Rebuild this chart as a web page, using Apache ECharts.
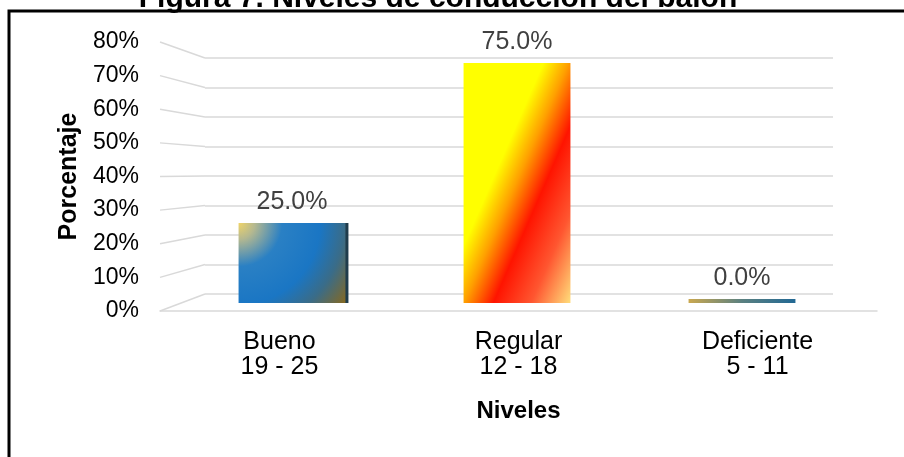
<!DOCTYPE html>
<html>
<head>
<meta charset="utf-8">
<script src="https://cdn.jsdelivr.net/npm/echarts@6/dist/echarts.min.js"></script>
<style>
  html, body { margin: 0; padding: 0; background: #fff; }
  #chart { width: 904px; height: 457px; }
</style>
</head>
<body>
<div id="chart"></div>
<script>
const niveles = ['Bueno\n19 - 25', 'Regular\n12 - 18', 'Deficiente\n5 - 11'];
const porcentajes = [25.0, 75.0, 0.0];
const ticks = [0, 10, 20, 30, 40, 50, 60, 70, 80];

const font = 'Liberation Sans, Arial, sans-serif';
const gridColor = '#d9d9d9';

// three planes of the fake 3D box: front (labels), middle (bars), back wall
const gridFront = { left: 160, right: 27, top: 42, bottom: 146 };
const gridMid = { left: 179.5, right: 49.5, top: 47, bottom: 154 };
const gridBack = { left: 205, right: 71, top: 58, bottom: 163 };

const fills = [
  {
    type: 'radial', x: 0, y: 0, r: 1.7,
    colorStops: [
      { offset: 0, color: '#f0d468' },
      { offset: 0.12, color: '#b4b890' },
      { offset: 0.32, color: '#2a80c4' },
      { offset: 0.6, color: '#1a76c4' },
      { offset: 0.78, color: '#3a6c88' },
      { offset: 1, color: '#8c6818' }
    ]
  },
  {
    type: 'linear', x: 0, y: 0, x2: 1.65, y2: 0.32,
    colorStops: [
      { offset: 0, color: '#ffff00' },
      { offset: 0.38, color: '#ffff00' },
      { offset: 0.5, color: '#ffa000' },
      { offset: 0.64, color: '#ff1400' },
      { offset: 0.82, color: '#ff5630' },
      { offset: 1, color: '#ffd878' }
    ]
  },
  {
    type: 'linear', x: 0, y: 0, x2: 1, y2: 0,
    colorStops: [
      { offset: 0, color: '#caa850' },
      { offset: 0.5, color: '#5a8080' },
      { offset: 1, color: '#226894' }
    ]
  }
];

const chart = echarts.init(document.getElementById('chart'));

const valueAxis = (idx, extra) => Object.assign({
  type: 'value',
  gridIndex: idx,
  min: 0,
  max: 80,
  interval: 10,
  axisLine: { show: false },
  axisTick: { show: false },
  axisLabel: { show: false },
  splitLine: { show: false }
}, extra);

chart.setOption({
  animation: false,
  textStyle: { fontFamily: font },
  grid: [gridFront, gridMid, gridBack],
  xAxis: [
    {
      type: 'category',
      gridIndex: 0,
      data: niveles,
      axisLine: { lineStyle: { color: gridColor, width: 1.5 } },
      axisTick: { show: false },
      axisLabel: { color: '#000', fontSize: 25, lineHeight: 25, margin: 19 },
      name: 'Niveles',
      nameLocation: 'middle',
      nameGap: 88,
      nameTextStyle: { color: '#000', fontSize: 24, fontWeight: 'bold' }
    },
    {
      type: 'category',
      gridIndex: 1,
      data: niveles,
      show: false
    },
    { type: 'value', gridIndex: 2, show: false }
  ],
  yAxis: [
    valueAxis(0, {
      axisLabel: { show: true, color: '#000', fontSize: 23, margin: 21, formatter: '{value}%' },
      name: 'Porcentaje',
      nameLocation: 'middle',
      nameRotate: 90,
      nameGap: 76,
      nameTextStyle: { color: '#000', fontSize: 25, fontWeight: 'bold' }
    }),
    valueAxis(1),
    valueAxis(2, { splitLine: { show: true, lineStyle: { color: gridColor, width: 1.5 } } })
  ],
  series: [
    {
      type: 'bar',
      xAxisIndex: 1,
      yAxisIndex: 1,
      barWidth: '47.5%',
      barMinHeight: 4,
      data: porcentajes.map((v, i) => ({
        value: v,
        itemStyle: {
          color: fills[i],
          shadowColor: i === 0 ? '#1f3c4c' : 'rgba(0,0,0,0)',
          shadowOffsetX: i === 0 ? 3 : 0,
          shadowBlur: 0
        }
      })),
      label: {
        show: true,
        position: 'top',
        distance: 8,
        color: '#404040',
        fontSize: 25,
        formatter: p => p.value.toFixed(1) + '%'
      }
    }
  ]
});

// diagonal gridlines joining the front edge to the back wall
const diagonals = ticks.map(v => ({
  type: 'polyline',
  shape: {
    points: [
      [gridFront.left, chart.convertToPixel({ yAxisIndex: 0 }, v)],
      [gridBack.left, chart.convertToPixel({ yAxisIndex: 2 }, v)]
    ]
  },
  style: { stroke: gridColor, lineWidth: 1.5, fill: null }
}));

chart.setOption({
  graphic: [
    {
      type: 'rect',
      shape: { x: 9, y: 11, width: 1000, height: 1000 },
      style: { fill: null, stroke: '#000', lineWidth: 3 }
    },
    {
      type: 'text',
      x: 438,
      y: 14,
      style: {
        text: 'Figura 7. Niveles de conducción del balón',
        font: 'bold 30px ' + font,
        fill: '#000',
        align: 'center',
        verticalAlign: 'bottom'
      }
    }
  ].concat(diagonals)
});

window.addEventListener('resize', () => chart.resize());
</script>
</body>
</html>
